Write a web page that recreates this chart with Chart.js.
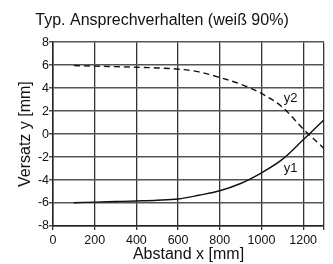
<!DOCTYPE html>
<html><head><meta charset="utf-8">
<script src="https://cdn.jsdelivr.net/npm/chart.js@4.4.1/dist/chart.umd.min.js"></script>
<style>html,body{margin:0;padding:0;background:#fff}#wrap{width:333px;height:264px}</style>
</head><body><div id="wrap"><canvas id="c" width="333" height="264"></canvas></div>
<script>
const distances = [100,200,300,400,500,600,700,800,900,1000,1100,1200,1300];
const y1Values = [-5.97,-5.92,-5.87,-5.82,-5.76,-5.65,-5.32,-4.93,-4.3,-3.37,-2.2,-0.5,1.25];
const y2Values = [5.96,5.92,5.87,5.82,5.76,5.66,5.42,4.93,4.35,3.54,2.35,0.45,-1.25];
const xTicks = [0,200,400,600,800,1000,1200];
const yTicks = [-8,-6,-4,-2,0,2,4,6,8];
const seriesLabels = ['y1','y2'];

const font = "'Liberation Sans', Arial, sans-serif";
const pts = vals => distances.map((x,i)=>({x, y: vals[i]}));

const labelPlugin = {
  id:'lbl',
  afterDatasetsDraw(chart){
    const {ctx, scales:{x,y}} = chart;
    ctx.save();
    ctx.font = "13px " + font;
    ctx.fillStyle = '#111';
    ctx.textAlign='center'; ctx.textBaseline='middle';
    ctx.fillText(seriesLabels[1], x.getPixelForValue(1140), y.getPixelForValue(3.1));
    ctx.fillText(seriesLabels[0], x.getPixelForValue(1140), y.getPixelForValue(-2.95));
    ctx.restore();
  }
};

new Chart(document.getElementById('c'), {
  type:'line',
  data:{datasets:[
    {label:seriesLabels[0], data:pts(y1Values), borderColor:'#111', borderWidth:1.4, pointRadius:0, fill:false, cubicInterpolationMode:'monotone'},
    {label:seriesLabels[1], data:pts(y2Values), borderColor:'#111', borderWidth:1.4, borderDash:[6,4], pointRadius:0, fill:false, cubicInterpolationMode:'monotone'}
  ]},
  options:{
    responsive:false, animation:false,
    layout:{padding:{left:0,right:9,top:0,bottom:0}},
    plugins:{
      legend:{display:false}, tooltip:{enabled:false},
      title:{display:true, text:'Typ. Ansprechverhalten (weiß 90%)', color:'#111', font:{family:font,size:16,weight:'normal'}, padding:{top:11,bottom:12}}
    },
    scales:{
      x:{type:'linear', min:0, max:1300,
        afterBuildTicks:s=>{s.ticks = xTicks.concat([1300]).map(v=>({value:v}));},
        afterFit:s=>{s.height=38;},
        ticks:{callback:v=> xTicks.includes(v)? String(v):'', color:'#111', font:{family:font,size:12.5}, padding:3, maxRotation:0, autoSkip:false},
        grid:{color:'#333', lineWidth:1.3, drawOnChartArea:true, tickLength:4},
        border:{color:'#222', width:1.5},
        title:{display:true, text:'Abstand x [mm]', color:'#111', font:{family:font,size:16}, padding:{top:0,bottom:0}}
      },
      y:{min:-8, max:8,
        afterBuildTicks:s=>{s.ticks = yTicks.map(v=>({value:v}));},
        afterFit:s=>{s.width=53;},
        ticks:{callback:v=> String(v), color:'#111', font:{family:font,size:12.5}, padding:0, autoSkip:false},
        grid:{color:'#555', lineWidth:1.5, drawOnChartArea:true, tickLength:4},
        border:{color:'#222', width:1.5},
        title:{display:true, text:'Versatz y [mm]', color:'#111', font:{family:font,size:16}, padding:{top:16,bottom:0}}
      }
    }
  },
  plugins:[labelPlugin]
});
</script></body></html>
